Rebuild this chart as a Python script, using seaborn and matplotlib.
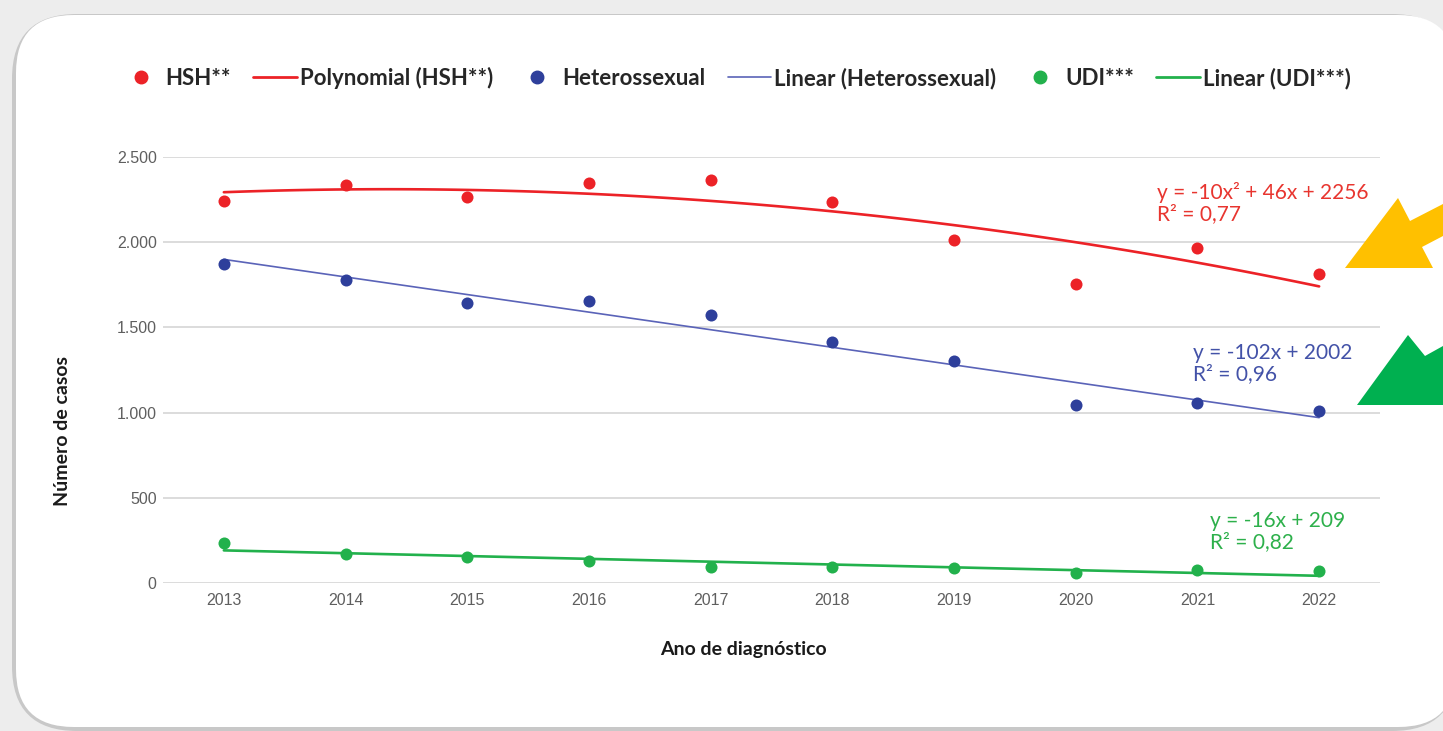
import numpy as np
import pandas as pd
import seaborn as sns
import matplotlib.pyplot as plt
from matplotlib.lines import Line2D
from matplotlib.patches import FancyBboxPatch, Polygon
from matplotlib.ticker import FuncFormatter

# dados
anos = [2013, 2014, 2015, 2016, 2017, 2018, 2019, 2020, 2021, 2022]
hsh = [2242, 2336, 2265, 2347, 2365, 2236, 2013, 1755, 1966, 1813]
hetero = [1872, 1778, 1643, 1655, 1573, 1414, 1303, 1045, 1056, 1009]
udi = [235, 170, 153, 129, 94, 94, 88, 59, 76, 70]

eq_hsh = ['y = -10x² + 46x + 2256', 'R² = 0,77']
eq_hetero = ['y = -102x + 2002', 'R² = 0,96']
eq_udi = ['y = -16x + 209', 'R² = 0,82']

df = pd.DataFrame({'ano': anos, 'hsh': hsh, 'hetero': hetero, 'udi': udi})

vermelho = '#ec2227'
azul = '#2e3f9b'
azul_linha = '#5a63b8'
verde = '#22b14c'

sns.set_theme(style='white')
plt.rcParams['font.family'] = ['Lato', 'DejaVu Sans']

fig = plt.figure(figsize=(14.43, 7.31), dpi=100, facecolor='#ededed')
W, H = 1443, 731

def fx(x):
    return x / W

def fy(y):
    return 1 - y / H

# moldura branca arredondada com sombra
sombra = FancyBboxPatch((fx(12), fy(731)), fx(1445), 1 - 14 / H,
                        boxstyle='round,pad=0,rounding_size=0.045',
                        transform=fig.transFigure, facecolor='#c8c8c8',
                        edgecolor='none', zorder=-2, mutation_aspect=W / H)
fig.patches.append(sombra)
caixa = FancyBboxPatch((fx(16), fy(727)), fx(1440), 1 - 19 / H,
                       boxstyle='round,pad=0,rounding_size=0.04',
                       transform=fig.transFigure, facecolor='white',
                       edgecolor='none', zorder=-1, mutation_aspect=W / H)
fig.patches.append(caixa)

ax = fig.add_axes([fx(163), fy(583), fx(1380) - fx(163), fy(157) - fy(583)])
ax.set_facecolor('none')

sns.scatterplot(data=df, x='ano', y='hsh', color=vermelho, s=75, linewidth=0, ax=ax, zorder=4, clip_on=False)
sns.scatterplot(data=df, x='ano', y='hetero', color=azul, s=75, linewidth=0, ax=ax, zorder=4, clip_on=False)
sns.scatterplot(data=df, x='ano', y='udi', color=verde, s=75, linewidth=0, ax=ax, zorder=4, clip_on=False)

sns.regplot(data=df, x='ano', y='hsh', order=2, ci=None, scatter=False, ax=ax,
            line_kws={'color': vermelho, 'lw': 1.9, 'zorder': 3})
sns.regplot(data=df, x='ano', y='hetero', ci=None, scatter=False, ax=ax,
            line_kws={'color': azul_linha, 'lw': 1.2, 'zorder': 3})
sns.regplot(data=df, x='ano', y='udi', ci=None, scatter=False, ax=ax,
            line_kws={'color': verde, 'lw': 1.9, 'zorder': 3})

ax.set_xlim(2012.5, 2022.5)
ax.set_ylim(0, 2500)
ax.set_xticks(anos)
ax.set_yticks([0, 500, 1000, 1500, 2000, 2500])
ax.yaxis.set_major_formatter(FuncFormatter(lambda v, p: f'{int(v):,}'.replace(',', '.')))
ax.grid(axis='y', color='#d9d9d9', lw=1.3)
ax.grid(axis='x', visible=False)
for s in ax.spines.values():
    s.set_visible(False)
ax.tick_params(axis='both', length=0, labelsize=11.5, colors='#5f5f5f')
ax.tick_params(axis='x', pad=7)
ax.tick_params(axis='y', pad=4.5)
for lbl in ax.get_xticklabels() + ax.get_yticklabels():
    lbl.set_family(['Liberation Sans', 'DejaVu Sans'])

ax.set_xlabel('Ano de diagnóstico', fontsize=14, fontweight='bold', color='#1a1a1a')
ax.set_ylabel('Número de casos', fontsize=14, fontweight='bold', color='#1a1a1a')
ax.xaxis.set_label_coords(0.477, -0.136)
ax.yaxis.set_label_coords(-0.0755, 0.357)

# equações das linhas de tendência
def equacao(x, y, linhas, cor):
    fig.text(fx(x), fy(y), '\n'.join(linhas), color=cor, fontsize=15,
             ha='left', va='top', linespacing=1.08)

equacao(1157, 182, eq_hsh, '#e8352f')
equacao(1193, 343, eq_hetero, '#4352a8')
equacao(1210, 511, eq_udi, '#2db04b')

# setas
amarela = [(1345, 268), (1398, 198), (1410, 221), (1443, 204), (1443, 236), (1422, 247), (1433, 268)]
verde_seta = [(1357, 405), (1408, 335), (1425, 356), (1443, 346), (1443, 405)]
for pts, cor in [(amarela, '#ffc000'), (verde_seta, '#00b050')]:
    fig.patches.append(Polygon([(fx(a), fy(b)) for a, b in pts], closed=True,
                               transform=fig.transFigure, facecolor=cor,
                               edgecolor='none', zorder=5))

# legenda
handles = [
    Line2D([], [], marker='o', ls='none', color=vermelho, markersize=9),
    Line2D([], [], color=vermelho, lw=2),
    Line2D([], [], marker='o', ls='none', color=azul, markersize=9),
    Line2D([], [], color=azul_linha, lw=1.2),
    Line2D([], [], marker='o', ls='none', color=verde, markersize=9),
    Line2D([], [], color=verde, lw=2),
]
rotulos = ['HSH**', 'Polynomial (HSH**)', 'Heterossexual', 'Linear (Heterossexual)',
           'UDI***', 'Linear (UDI***)']
fig.legend(handles, rotulos, ncol=6, loc='center', bbox_to_anchor=(fx(735), fy(78)),
           frameon=False, handlelength=1.95, handletextpad=0.15, columnspacing=1.0,
           prop={'weight': 'bold', 'size': 16})

fig.savefig('out.png', dpi=100, facecolor=fig.get_facecolor())
